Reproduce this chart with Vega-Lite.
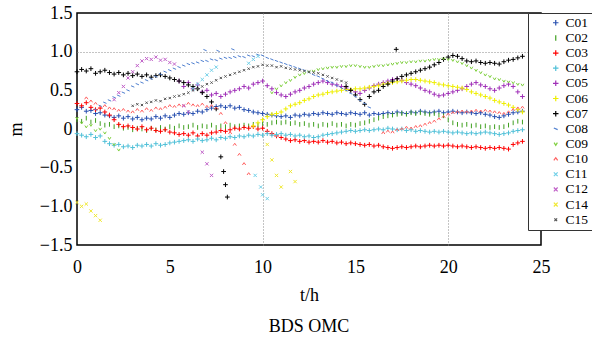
{
"$schema":"https://vega.github.io/schema/vega-lite/v6.json",
"autosize":{"type":"none"},
"padding":{"left":77,"top":13,"right":51,"bottom":95},
"width":464,"height":232,
"background":"white",
"config":{"view":{"stroke":"black","strokeWidth":1.5},"font":"Liberation Serif"},
"title":{"text":"BDS OMC","orient":"bottom","font":"Liberation Serif","fontSize":18,"fontWeight":"normal","color":"black","offset":14},
"data":{"values":[
{"t":0,"C01":0.25,"C02":0.12,"C03":0.33,"C04":-0.06,"C07":0.74,"C09":0.14,"C14":-0.95},
{"t":0.25,"C01":0.28,"C02":0.1,"C03":0.3,"C04":-0.08,"C07":0.77,"C09":0.08,"C14":-1.0},
{"t":0.5,"C01":0.23,"C02":0.14,"C03":0.34,"C04":-0.1,"C07":0.75,"C09":0.03,"C10":0.4,"C14":-0.97},
{"t":0.75,"C01":0.24,"C02":0.09,"C03":0.28,"C04":-0.07,"C07":0.78,"C09":0.05,"C10":0.36,"C14":-1.06},
{"t":1,"C01":0.2,"C02":0.11,"C03":0.25,"C04":-0.11,"C07":0.72,"C08":0.25,"C09":-0.02,"C10":0.33,"C14":-1.12},
{"t":1.25,"C01":0.21,"C02":0.07,"C03":0.27,"C04":-0.09,"C07":0.74,"C08":0.3,"C09":0.0,"C10":0.28,"C14":-1.18},
{"t":1.5,"C01":0.18,"C02":0.05,"C03":0.22,"C04":-0.16,"C07":0.76,"C08":0.34,"C09":-0.05,"C10":0.3},
{"t":1.75,"C01":0.17,"C02":0.06,"C03":0.18,"C04":-0.19,"C07":0.73,"C08":0.37,"C09":-0.12,"C10":0.27},
{"t":2,"C01":0.15,"C02":0.03,"C03":0.12,"C04":-0.21,"C07":0.71,"C08":0.41,"C09":-0.2,"C10":0.26,"C12":0.38},
{"t":2.25,"C01":0.17,"C02":0.04,"C03":0.06,"C04":-0.2,"C07":0.73,"C08":0.43,"C09":-0.27,"C10":0.24,"C12":0.47},
{"t":2.5,"C01":0.14,"C02":0.01,"C03":0.03,"C04":-0.23,"C07":0.7,"C08":0.47,"C10":0.25,"C12":0.55},
{"t":2.75,"C01":0.16,"C02":0.02,"C03":0.04,"C04":-0.22,"C07":0.72,"C08":0.5,"C10":0.23,"C12":0.66},
{"t":3,"C01":0.13,"C02":-0.01,"C03":0.02,"C04":-0.24,"C07":0.69,"C08":0.55,"C10":0.22,"C12":0.74,"C15":0.3},
{"t":3.25,"C01":0.15,"C02":0.01,"C03":0.0,"C04":-0.21,"C07":0.71,"C08":0.58,"C10":0.25,"C12":0.82,"C15":0.32},
{"t":3.5,"C01":0.12,"C02":0.0,"C03":0.03,"C04":-0.22,"C07":0.68,"C08":0.6,"C10":0.23,"C12":0.88,"C15":0.31},
{"t":3.75,"C01":0.14,"C02":-0.02,"C03":-0.01,"C04":-0.2,"C07":0.7,"C08":0.63,"C10":0.26,"C12":0.91,"C15":0.34},
{"t":4,"C01":0.13,"C02":0.01,"C03":0.01,"C04":-0.22,"C07":0.67,"C08":0.65,"C10":0.24,"C12":0.9,"C15":0.35},
{"t":4.25,"C01":0.16,"C02":-0.01,"C03":-0.02,"C04":-0.19,"C07":0.69,"C08":0.68,"C10":0.27,"C12":0.93,"C15":0.37},
{"t":4.5,"C01":0.14,"C02":0.02,"C03":-0.03,"C04":-0.21,"C07":0.7,"C08":0.71,"C10":0.26,"C12":0.89,"C15":0.36},
{"t":4.75,"C01":0.17,"C02":0.0,"C03":-0.01,"C04":-0.2,"C07":0.68,"C08":0.74,"C10":0.28,"C12":0.9,"C15":0.39},
{"t":5,"C01":0.15,"C02":0.03,"C03":-0.04,"C04":-0.18,"C07":0.66,"C08":0.76,"C10":0.3,"C12":0.86,"C15":0.4},
{"t":5.25,"C01":0.18,"C02":0.01,"C03":-0.05,"C04":-0.17,"C07":0.64,"C08":0.78,"C10":0.29,"C12":0.84,"C15":0.42},
{"t":5.5,"C01":0.2,"C02":0.04,"C03":-0.07,"C04":-0.16,"C05":0.62,"C07":0.62,"C08":0.8,"C10":0.31,"C15":0.43},
{"t":5.75,"C01":0.19,"C02":0.02,"C03":-0.06,"C04":-0.15,"C05":0.55,"C07":0.6,"C08":0.82,"C10":0.3,"C12":0.3,"C15":0.45},
{"t":6,"C01":0.21,"C02":0.03,"C03":-0.08,"C04":-0.14,"C05":0.6,"C07":0.57,"C08":0.84,"C10":0.33,"C12":0.22,"C15":0.47},
{"t":6.25,"C01":0.2,"C02":0.05,"C03":-0.05,"C04":-0.16,"C05":0.52,"C07":0.55,"C08":0.85,"C10":0.31,"C11":0.52,"C15":0.5},
{"t":6.5,"C01":0.23,"C02":0.02,"C03":-0.09,"C04":-0.13,"C05":0.57,"C07":0.52,"C08":0.86,"C10":0.3,"C11":0.58,"C15":0.52},
{"t":6.75,"C01":0.22,"C02":0.04,"C03":-0.06,"C04":-0.15,"C05":0.48,"C07":0.47,"C08":0.88,"C10":0.32,"C11":0.64,"C12":-0.3,"C15":0.55},
{"t":7,"C01":0.25,"C02":0.03,"C03":-0.08,"C04":-0.14,"C05":0.5,"C07":0.42,"C08":0.88,"C10":0.29,"C11":0.7,"C12":-0.45,"C15":0.58},
{"t":7.25,"C01":0.27,"C02":0.05,"C03":-0.05,"C04":-0.12,"C05":0.44,"C07":0.35,"C08":0.9,"C10":0.3,"C11":0.76,"C12":-0.6,"C15":0.6},
{"t":7.5,"C01":0.29,"C02":0.02,"C03":-0.04,"C04":-0.14,"C05":0.46,"C07":0.26,"C08":0.89,"C10":0.27,"C11":0.8,"C15":0.63},
{"t":7.75,"C01":0.3,"C02":0.04,"C03":-0.02,"C04":-0.11,"C05":0.42,"C07":-0.36,"C08":0.91,"C10":0.2,"C15":0.66},
{"t":8,"C01":0.28,"C02":0.03,"C03":-0.03,"C04":-0.12,"C05":0.45,"C07":-0.72,"C08":0.92,"C10":0.08,"C15":0.68},
{"t":8.25,"C01":0.3,"C02":0.05,"C03":-0.01,"C04":-0.1,"C05":0.48,"C08":0.92,"C10":-0.05,"C15":0.7},
{"t":8.5,"C01":0.27,"C02":0.03,"C03":0.01,"C04":-0.11,"C05":0.5,"C08":0.93,"C10":-0.2,"C15":0.72},
{"t":8.75,"C01":0.28,"C02":0.04,"C03":0.0,"C04":-0.09,"C05":0.52,"C08":0.94,"C10":-0.33,"C15":0.74},
{"t":9,"C01":0.25,"C02":0.05,"C03":0.02,"C04":-0.1,"C05":0.55,"C08":0.93,"C10":-0.45,"C15":0.76},
{"t":9.25,"C01":0.24,"C02":0.04,"C03":0.01,"C04":-0.08,"C05":0.53,"C08":0.95,"C10":-0.58,"C11":0.85,"C15":0.78},
{"t":9.5,"C01":0.22,"C02":0.06,"C03":0.03,"C04":-0.09,"C05":0.58,"C06":0.04,"C08":0.94,"C11":0.9,"C15":0.8},
{"t":9.75,"C01":0.21,"C02":0.05,"C03":0.0,"C04":-0.07,"C05":0.6,"C06":0.08,"C08":0.96,"C11":0.94,"C15":0.81},
{"t":10,"C01":0.2,"C02":0.07,"C03":0.01,"C04":-0.08,"C05":0.62,"C06":0.12,"C08":0.95,"C11":-0.85,"C15":0.83},
{"t":10.25,"C01":0.19,"C02":0.06,"C03":-0.03,"C04":-0.06,"C05":0.56,"C06":0.16,"C08":0.92,"C11":-0.9,"C14":-0.2,"C15":0.82},
{"t":10.5,"C01":0.18,"C02":0.08,"C03":-0.06,"C04":-0.08,"C05":0.52,"C06":0.19,"C08":0.9,"C09":0.47,"C14":-0.4,"C15":0.82},
{"t":10.75,"C01":0.17,"C02":0.09,"C03":-0.09,"C04":-0.07,"C05":0.47,"C06":0.2,"C08":0.88,"C09":0.52,"C14":-0.6,"C15":0.8},
{"t":11,"C01":0.16,"C02":0.08,"C03":-0.11,"C04":-0.06,"C05":0.44,"C06":0.22,"C08":0.86,"C09":0.56,"C14":-0.75,"C15":0.81},
{"t":11.25,"C01":0.17,"C02":0.09,"C03":-0.13,"C04":-0.08,"C05":0.42,"C06":0.26,"C08":0.84,"C09":0.6,"C15":0.79},
{"t":11.5,"C01":0.15,"C02":0.07,"C03":-0.15,"C04":-0.07,"C05":0.45,"C06":0.3,"C08":0.82,"C09":0.63,"C14":-0.55,"C15":0.78},
{"t":11.75,"C01":0.18,"C02":0.08,"C03":-0.14,"C04":-0.09,"C05":0.48,"C06":0.32,"C08":0.8,"C09":0.67,"C14":-0.68,"C15":0.77},
{"t":12,"C01":0.17,"C02":0.06,"C03":-0.16,"C04":-0.08,"C05":0.5,"C06":0.34,"C08":0.78,"C09":0.7,"C15":0.76},
{"t":12.25,"C01":0.19,"C02":0.07,"C03":-0.15,"C04":-0.1,"C05":0.53,"C06":0.37,"C08":0.76,"C09":0.72,"C15":0.75},
{"t":12.5,"C01":0.18,"C02":0.05,"C03":-0.17,"C04":-0.09,"C05":0.55,"C06":0.39,"C08":0.73,"C09":0.74,"C15":0.74},
{"t":12.75,"C01":0.2,"C02":0.06,"C03":-0.16,"C04":-0.11,"C05":0.58,"C06":0.42,"C08":0.7,"C09":0.75,"C15":0.73},
{"t":13,"C01":0.19,"C02":0.04,"C03":-0.17,"C04":-0.1,"C05":0.6,"C06":0.44,"C08":0.68,"C09":0.77,"C15":0.72},
{"t":13.25,"C01":0.21,"C02":0.06,"C03":-0.15,"C04":-0.08,"C05":0.62,"C06":0.45,"C08":0.65,"C09":0.78,"C15":0.7},
{"t":13.5,"C01":0.2,"C02":0.05,"C03":-0.17,"C04":-0.07,"C05":0.6,"C06":0.47,"C08":0.62,"C09":0.79,"C15":0.68},
{"t":13.75,"C01":0.19,"C02":0.07,"C03":-0.16,"C04":-0.06,"C05":0.58,"C06":0.48,"C08":0.6,"C09":0.8,"C15":0.66},
{"t":14,"C01":0.21,"C02":0.05,"C03":-0.18,"C04":-0.05,"C05":0.57,"C06":0.49,"C08":0.56,"C09":0.8,"C15":0.64},
{"t":14.25,"C01":0.2,"C02":0.06,"C03":-0.17,"C04":-0.04,"C05":0.55,"C06":0.5,"C08":0.53,"C09":0.81,"C15":0.62},
{"t":14.5,"C01":0.19,"C02":0.04,"C03":-0.19,"C04":-0.03,"C05":0.53,"C06":0.51,"C07":0.55,"C08":0.5,"C09":0.81,"C15":0.6},
{"t":14.75,"C01":0.21,"C02":0.06,"C03":-0.18,"C04":-0.02,"C05":0.5,"C06":0.51,"C07":0.5,"C08":0.46,"C09":0.82},
{"t":15,"C01":0.2,"C02":0.05,"C03":-0.19,"C04":-0.03,"C05":0.48,"C06":0.52,"C07":0.44,"C08":0.42,"C09":0.82},
{"t":15.25,"C01":0.19,"C02":0.07,"C03":-0.2,"C04":-0.02,"C05":0.46,"C06":0.52,"C07":0.38,"C08":0.37,"C09":0.81},
{"t":15.5,"C01":0.21,"C02":0.08,"C03":-0.21,"C04":-0.01,"C05":0.5,"C06":0.53,"C07":0.32,"C08":0.33,"C09":0.8},
{"t":15.75,"C01":0.18,"C02":0.1,"C03":-0.2,"C04":-0.02,"C05":0.53,"C06":0.54,"C07":0.42,"C08":0.28,"C09":0.8},
{"t":16,"C01":0.2,"C02":0.12,"C03":-0.22,"C04":-0.01,"C05":0.56,"C06":0.55,"C07":0.48,"C09":0.81},
{"t":16.25,"C01":0.19,"C02":0.14,"C03":-0.21,"C04":0.0,"C05":0.58,"C06":0.56,"C07":0.5,"C09":0.82},
{"t":16.5,"C01":0.2,"C02":0.16,"C03":-0.23,"C04":-0.01,"C05":0.6,"C06":0.58,"C07":0.55,"C09":0.82,"C10":-0.05},
{"t":16.75,"C01":0.21,"C02":0.17,"C03":-0.24,"C04":0.01,"C05":0.62,"C06":0.59,"C07":0.58,"C09":0.83,"C10":-0.03},
{"t":17,"C01":0.2,"C02":0.18,"C03":-0.25,"C04":0.0,"C05":0.64,"C06":0.6,"C07":0.62,"C09":0.84,"C10":-0.04},
{"t":17.25,"C01":0.22,"C02":0.19,"C03":-0.24,"C04":-0.01,"C05":0.65,"C06":0.61,"C07":0.65,"C09":0.85,"C10":-0.01},
{"t":17.5,"C01":0.21,"C02":0.2,"C03":-0.23,"C04":0.0,"C05":0.63,"C06":0.62,"C07":0.68,"C09":0.86,"C10":0.0},
{"t":17.75,"C01":0.2,"C02":0.19,"C03":-0.24,"C04":-0.02,"C05":0.6,"C06":0.63,"C07":0.7,"C09":0.86,"C10":0.02},
{"t":18,"C01":0.22,"C02":0.21,"C03":-0.23,"C04":-0.01,"C05":0.58,"C06":0.64,"C07":0.72,"C09":0.87,"C10":0.01},
{"t":18.25,"C01":0.21,"C02":0.2,"C03":-0.22,"C04":-0.03,"C05":0.56,"C06":0.64,"C07":0.74,"C09":0.87,"C10":0.03},
{"t":18.5,"C01":0.23,"C02":0.21,"C03":-0.23,"C04":-0.02,"C05":0.53,"C06":0.63,"C07":0.76,"C09":0.88,"C10":0.04},
{"t":18.75,"C01":0.22,"C02":0.2,"C03":-0.22,"C04":-0.03,"C05":0.5,"C06":0.62,"C07":0.78,"C09":0.88,"C10":0.06},
{"t":19,"C01":0.21,"C02":0.19,"C03":-0.21,"C04":-0.04,"C05":0.48,"C06":0.61,"C07":0.8,"C09":0.89,"C10":0.08},
{"t":19.25,"C01":0.22,"C02":0.2,"C03":-0.22,"C04":-0.03,"C05":0.45,"C06":0.6,"C07":0.83,"C09":0.9,"C10":0.1},
{"t":19.5,"C01":0.23,"C02":0.18,"C03":-0.21,"C04":-0.04,"C05":0.43,"C06":0.58,"C07":0.86,"C09":0.9,"C10":0.13},
{"t":19.75,"C01":0.21,"C02":0.17,"C03":-0.22,"C04":-0.03,"C05":0.44,"C06":0.57,"C07":0.9,"C09":0.91,"C10":0.16},
{"t":20,"C01":0.22,"C02":0.12,"C03":-0.21,"C04":-0.04,"C05":0.46,"C06":0.56,"C07":0.93,"C09":0.9,"C10":0.19},
{"t":20.25,"C01":0.23,"C02":0.08,"C03":-0.22,"C04":-0.05,"C05":0.48,"C06":0.55,"C07":0.95,"C09":0.89,"C10":0.21},
{"t":20.5,"C01":0.22,"C02":0.06,"C03":-0.23,"C04":-0.04,"C05":0.5,"C06":0.54,"C07":0.94,"C09":0.87,"C10":0.22},
{"t":20.75,"C01":0.21,"C02":0.05,"C03":-0.22,"C04":-0.05,"C05":0.52,"C06":0.53,"C07":0.91,"C09":0.85,"C10":0.23},
{"t":21,"C01":0.22,"C02":0.06,"C03":-0.23,"C04":-0.06,"C05":0.55,"C06":0.51,"C07":0.88,"C09":0.82,"C10":0.22},
{"t":21.25,"C01":0.21,"C02":0.04,"C03":-0.24,"C04":-0.05,"C05":0.58,"C06":0.48,"C07":0.87,"C09":0.79,"C10":0.23},
{"t":21.5,"C01":0.2,"C02":0.05,"C03":-0.23,"C04":-0.06,"C05":0.6,"C06":0.46,"C07":0.88,"C09":0.76,"C10":0.24},
{"t":21.75,"C01":0.21,"C02":0.03,"C03":-0.24,"C04":-0.05,"C05":0.57,"C06":0.44,"C07":0.86,"C09":0.73,"C10":0.23},
{"t":22,"C01":0.19,"C02":0.04,"C03":-0.25,"C04":-0.04,"C05":0.55,"C06":0.42,"C07":0.85,"C09":0.7,"C10":0.24},
{"t":22.25,"C01":0.18,"C02":0.02,"C03":-0.24,"C04":-0.05,"C05":0.52,"C06":0.4,"C07":0.86,"C09":0.68,"C10":0.23},
{"t":22.5,"C01":0.16,"C02":0.03,"C03":-0.25,"C04":-0.06,"C05":0.5,"C06":0.37,"C07":0.85,"C09":0.65,"C10":0.22},
{"t":22.75,"C01":0.15,"C02":0.02,"C03":-0.24,"C04":-0.07,"C05":0.53,"C06":0.35,"C07":0.84,"C09":0.64,"C10":0.21},
{"t":23,"C01":0.17,"C02":0.03,"C03":-0.25,"C04":-0.06,"C05":0.56,"C06":0.33,"C07":0.87,"C09":0.62,"C10":0.2},
{"t":23.25,"C01":0.19,"C02":0.05,"C03":-0.26,"C04":-0.05,"C05":0.58,"C06":0.31,"C07":0.89,"C09":0.61,"C10":0.22},
{"t":23.5,"C01":0.21,"C02":0.08,"C03":-0.2,"C04":-0.03,"C05":0.55,"C06":0.28,"C07":0.9,"C09":0.6,"C10":0.25},
{"t":23.75,"C01":0.22,"C02":0.1,"C03":-0.18,"C04":-0.02,"C05":0.48,"C06":0.25,"C07":0.92,"C09":0.58,"C10":0.27},
{"t":24,"C01":0.23,"C02":0.09,"C03":-0.16,"C04":-0.01,"C05":0.42,"C06":0.22,"C07":0.94,"C09":0.57,"C10":0.28},
{"t":6.9,"C08":1.02},{"t":7.6,"C08":1.01},{"t":8.4,"C08":1.03},
{"t":7.9,"C07":-0.55},{"t":8.1,"C07":-0.88},{"t":17.2,"C07":1.03},
{"t":9.6,"C11":-0.6},{"t":9.9,"C11":-0.75}
]},
"transform":[
{"fold":["C01","C02","C03","C04","C05","C06","C07","C08","C09","C10","C11","C12","C14","C15"],"as":["sat","v"]},
{"filter":"isValid(datum.v)"}
],
"mark":{"type":"point","filled":false,"size":22,"strokeWidth":1,"opacity":1},
"encoding":{
"x":{"field":"t","type":"quantitative","scale":{"domain":[0,25],"nice":false},
 "axis":{"values":[0,5,10,15,20,25],"format":"d","grid":true,"gridColor":"#888888","gridDash":[1,2],"gridWidth":1,"gridOpacity":{"condition":{"test":"datum.value == 10 || datum.value == 20","value":1},"value":0},"domain":false,"ticks":false,"labelFont":"Liberation Serif","labelFontSize":18,"labelColor":"black","labelPadding":13,"labelFlush":false,"labelOverlap":false,
 "title":"t/h","titleFont":"Liberation Serif","titleFontSize":18,"titleFontWeight":"normal","titleColor":"black","titlePadding":10}},
"y":{"field":"v","type":"quantitative","scale":{"domain":[-1.5,1.5],"nice":false},
 "axis":{"values":[-1.5,-1,-0.5,0,0.5,1,1.5],"labelExpr":"datum.value == 0 ? '0' : replace(format(datum.value, '.1f'), '-', '\u2212')","grid":true,"gridColor":"#888888","gridDash":[1,2],"gridWidth":1,"gridOpacity":{"condition":{"test":"datum.value == 1","value":1},"value":0},"domain":false,"ticks":false,"labelFont":"Liberation Serif","labelFontSize":18,"labelColor":"black","labelPadding":5,"labelFlush":false,"labelOverlap":false,
 "title":"m","titleFont":"Liberation Serif","titleFontSize":18,"titleFontWeight":"normal","titleColor":"black","titlePadding":14}},
"color":{"field":"sat","type":"nominal","scale":{"domain":["C01","C02","C03","C04","C05","C06","C07","C08","C09","C10","C11","C12","C14","C15"],
 "range":["#2850b0","#40a020","#ff0000","#50c0d8","#a030b8","#eeee00","#000000","#5080d0","#80d040","#ff6060","#70d0e8","#c060c8","#f0e830","#555555"]},
 "legend":{"orient":"none","legendX":451,"legendY":0,"title":null,"fillColor":"white","strokeColor":"#333333","padding":3,"labelFont":"Liberation Serif","labelFontSize":13.5,"labelColor":"black","rowPadding":0.15,"symbolSize":30,"symbolStrokeWidth":1.2,"symbolOffset":18,"labelOffset":3,"labelExpr":"datum.label + ' '"}},
"shape":{"field":"sat","type":"nominal","scale":{"domain":["C01","C02","C03","C04","C05","C06","C07","C08","C09","C10","C11","C12","C14","C15"],
 "range":["M-1,0L1,0M0,-1L0,1","M0,-1L0,1","M-1,0L1,0M0,-1L0,1","M-1,0L1,0M0,-1L0,1","M-1,0L1,0M0,-1L0,1","M-1,0L1,0M0,-1L0,1","M-1,0L1,0M0,-1L0,1","M-0.7,-0.3L0.7,0.3","M-0.6,-0.5L0,0.5L0.6,-0.5","M-0.7,0.5L0,-0.5L0.7,0.5","M-0.7,-0.7L0.7,0.7M-0.7,0.7L0.7,-0.7","M-0.7,-0.7L0.7,0.7M-0.7,0.7L0.7,-0.7","M-0.7,-0.7L0.7,0.7M-0.7,0.7L0.7,-0.7","M-0.5,-0.5L0.5,0.5M-0.5,0.5L0.5,-0.5"]}}
}
}
